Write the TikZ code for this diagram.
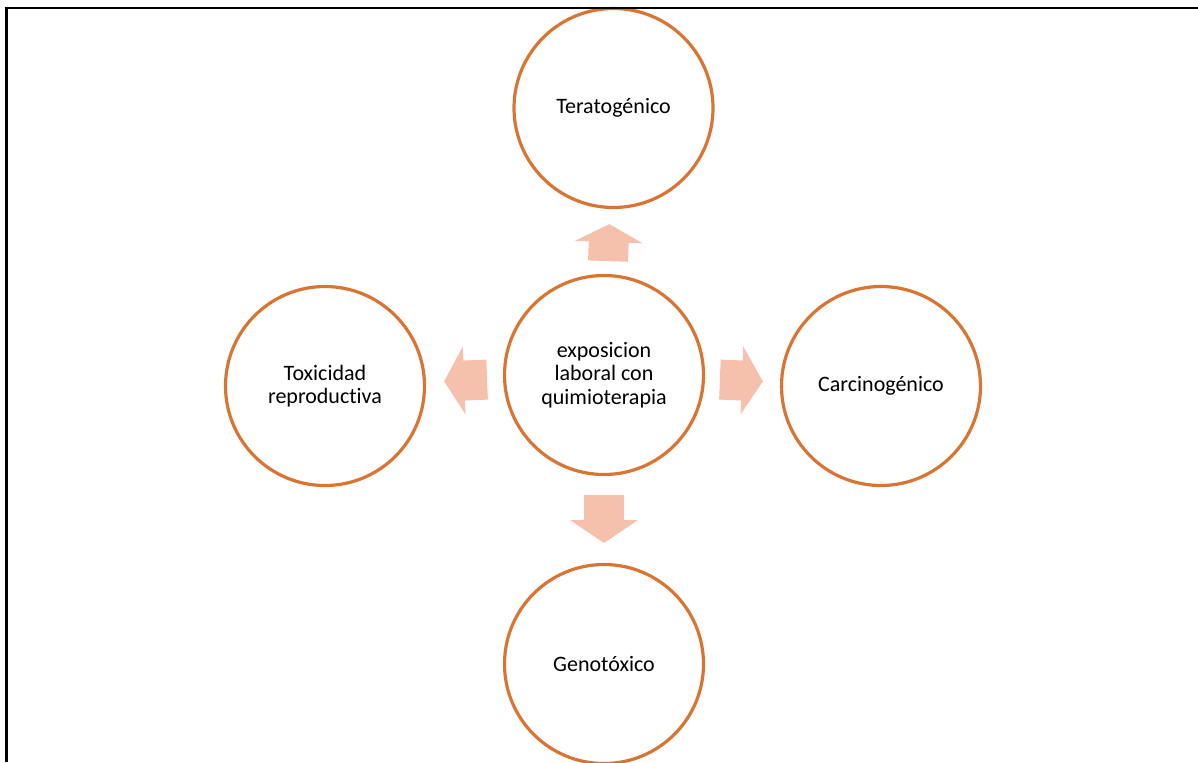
\documentclass[tikz,border=0pt]{standalone}
\usepackage{fontspec}
\setmainfont{Carlito}[Ligatures={NoCommon,NoRare,NoContextual}]
\usetikzlibrary{calc,arrows.meta}
\definecolor{ringc}{RGB}{217,116,50}
\definecolor{arrowc}{RGB}{245,192,172}
\tikzset{
  ring/.style={circle, draw=ringc, line width=1.6pt, fill=white, minimum size=99.5pt,
    inner sep=0pt, align=center, font=\fontsize{11}{11.8}\selectfont},
  blockarrow/.style={draw=arrowc, line width=20pt,
    -{Triangle[length=#1, width=33.5pt]}},
  frameline/.style={line width=1.1pt, black}
}
\begin{document}
\begin{tikzpicture}[x=0.5pt, y=-0.5pt]
\useasboundingbox (0,0) rectangle (1198,762);
\node[ring] (c) at (604,375) {exposicion\\laboral con\\quimioterapia};
\node[ring] (t) at (613.5,108) {Teratogénico};
\node[ring] (l) at (325,386) {Toxicidad\\reproductiva};
\node[ring] (r) at (881,386) {Carcinogénico};
\node[ring] (b) at (604,664) {Genotóxico};
\draw[blockarrow=9pt] ($(c.center)!57pt!(t.center)$) -- ($(c.center)!75.5pt!(t.center)$);
\draw[blockarrow=10pt] ($(c.center)!58.5pt!(l.center)$) -- ($(c.center)!80pt!(l.center)$);
\draw[blockarrow=10.5pt] ($(c.center)!58pt!(r.center)$) -- ($(c.center)!79.5pt!(r.center)$);
\draw[blockarrow=11.5pt] ($(c.center)!60pt!(b.center)$) -- ($(c.center)!84pt!(b.center)$);
\coordinate (fb) at (6.5,762);
\coordinate (fc) at (6.5,8);
\coordinate (fr) at (1198,8);
\draw[frameline] (fb) -- (fc) -- (fr);
\end{tikzpicture}
\end{document}
